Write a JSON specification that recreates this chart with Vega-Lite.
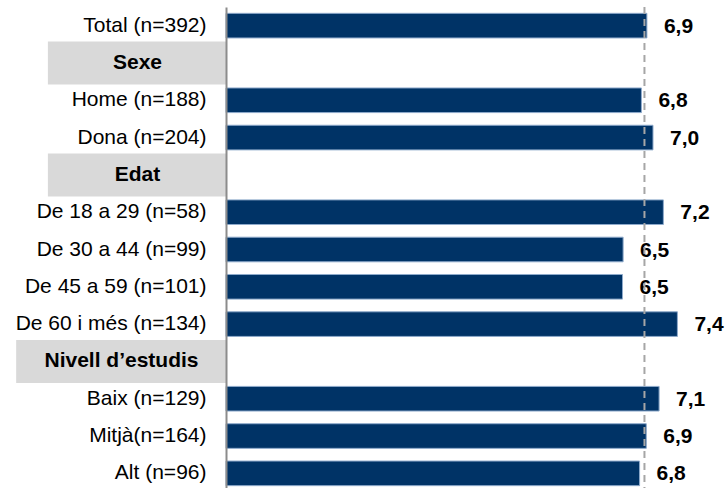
{
  "$schema": "https://vega.github.io/schema/vega-lite/v6.json",
  "width": 488,
  "height": 485,
  "autosize": {"type": "none"},
  "padding": {"left": 226, "top": 7, "right": 13, "bottom": 0},
  "background": "white",
  "config": {"view": {"stroke": null}, "font": "Liberation Sans"},
  "datasets": {
    "rows": [
      {"cat": "Total (n=392)", "kind": "item", "value": 6.90, "label": "6,9"},
      {"cat": "Sexe", "kind": "header", "value": null, "label": ""},
      {"cat": "Home (n=188)", "kind": "item", "value": 6.81, "label": "6,8"},
      {"cat": "Dona  (n=204)", "kind": "item", "value": 7.00, "label": "7,0"},
      {"cat": "Edat", "kind": "header", "value": null, "label": ""},
      {"cat": "De 18 a 29 (n=58)", "kind": "item", "value": 7.17, "label": "7,2"},
      {"cat": "De 30 a 44 (n=99)", "kind": "item", "value": 6.51, "label": "6,5"},
      {"cat": "De 45 a 59 (n=101)", "kind": "item", "value": 6.50, "label": "6,5"},
      {"cat": "De 60 i més (n=134)", "kind": "item", "value": 7.40, "label": "7,4"},
      {"cat": "Nivell d’estudis", "kind": "header", "value": null, "label": ""},
      {"cat": "Baix (n=129)", "kind": "item", "value": 7.10, "label": "7,1"},
      {"cat": "Mitjà(n=164)", "kind": "item", "value": 6.89, "label": "6,9"},
      {"cat": "Alt (n=96)", "kind": "item", "value": 6.78, "label": "6,8"}
    ],
    "reference": [
      {"name": "Total", "value": 6.86}
    ]
  },
  "data": {"name": "rows"},
  "layer": [
    {
      "transform": [{"filter": "datum.cat === 'Sexe' || datum.cat === 'Edat'"}],
      "mark": {"type": "bar", "color": "#d9d9d9", "height": 43},
      "encoding": {
        "y": {
          "field": "cat",
          "type": "nominal",
          "scale": {
            "domain": ["Total (n=392)", "Sexe", "Home (n=188)", "Dona  (n=204)", "Edat", "De 18 a 29 (n=58)", "De 30 a 44 (n=99)", "De 45 a 59 (n=101)", "De 60 i més (n=134)", "Nivell d’estudis", "Baix (n=129)", "Mitjà(n=164)", "Alt (n=96)"],
            "paddingInner": 0.34,
            "paddingOuter": 0.17
          },
          "axis": {
            "title": null,
            "domain": true,
            "domainColor": "#8c8c8c",
            "domainWidth": 2,
            "ticks": false,
            "tickSize": 0,
            "labelFont": "Liberation Sans",
            "labelFontSize": 21,
            "labelColor": "#000000",
            "labelLimit": 0,
            "zindex": 1,
            "labelPadding": {
              "condition": [
                {"test": "datum.value === 'Sexe' || datum.value === 'Edat'", "value": 89},
                {"test": "datum.value === 'Nivell d’estudis'", "value": 105}
              ],
              "value": 20
            },
            "labelAlign": {
              "condition": {"test": "datum.value === 'Sexe' || datum.value === 'Edat' || datum.value === 'Nivell d’estudis'", "value": "center"},
              "value": "right"
            },
            "labelFontWeight": {
              "condition": {"test": "datum.value === 'Sexe' || datum.value === 'Edat' || datum.value === 'Nivell d’estudis'", "value": "bold"},
              "value": "normal"
            }
          }
        },
        "x": {"datum": -2.92, "type": "quantitative", "scale": {"domain": [0, 8]}, "axis": null},
        "x2": {"datum": 0}
      }
    },
    {
      "transform": [{"filter": "datum.cat === 'Nivell d’estudis'"}],
      "mark": {"type": "bar", "color": "#d9d9d9", "height": 43},
      "encoding": {
        "y": {"field": "cat", "type": "nominal"},
        "x": {"datum": -3.44, "type": "quantitative"},
        "x2": {"datum": 0}
      }
    },
    {
      "transform": [{"filter": "datum.kind === 'item'"}],
      "mark": {"type": "bar", "color": "#003366", "stroke": "#8eaacb", "strokeWidth": 1},
      "encoding": {
        "y": {"field": "cat", "type": "nominal"},
        "x": {"field": "value", "type": "quantitative"}
      }
    },
    {
      "transform": [{"filter": "datum.kind === 'item'"}],
      "mark": {"type": "text", "align": "left", "baseline": "middle", "dx": 17, "dy": 1, "fontSize": 21, "fontWeight": "bold", "font": "Liberation Sans", "color": "#000000"},
      "encoding": {
        "y": {"field": "cat", "type": "nominal"},
        "x": {"field": "value", "type": "quantitative"},
        "text": {"field": "label"}
      }
    },
    {
      "data": {"name": "reference"},
      "mark": {"type": "rule", "color": "#a6a6a6", "strokeWidth": 2, "strokeDash": [7, 5]},
      "encoding": {
        "x": {"field": "value", "type": "quantitative"}
      }
    }
  ],
  "resolve": {"scale": {"x": "shared", "y": "shared"}}
}
